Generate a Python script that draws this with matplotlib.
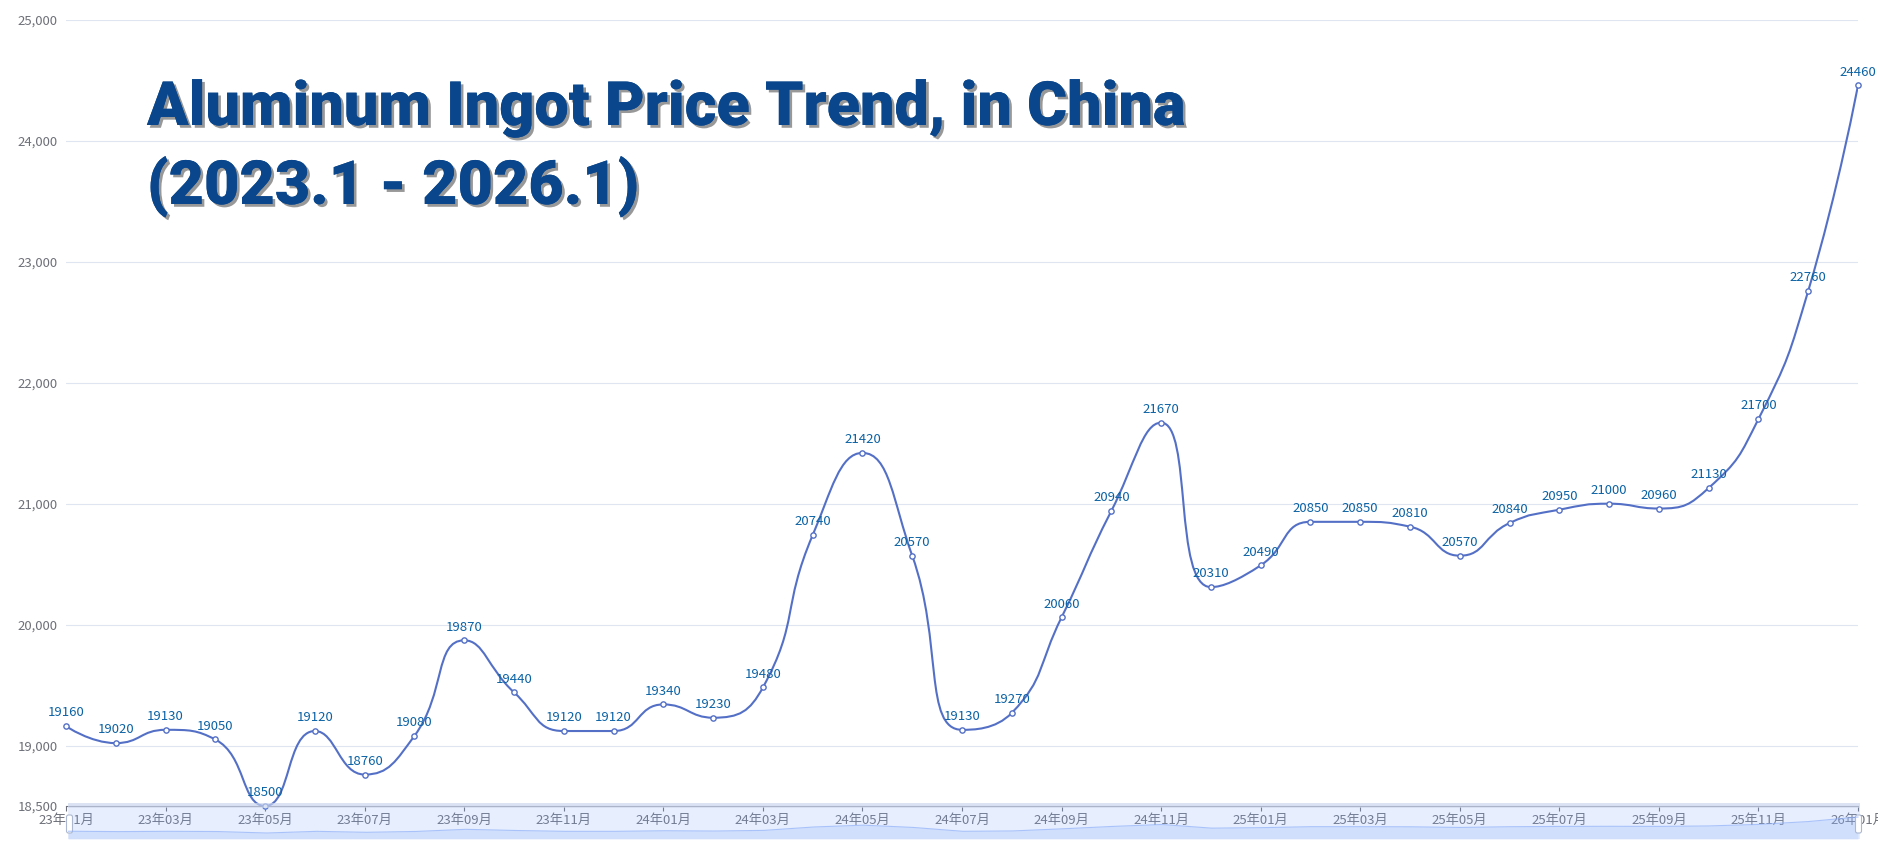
import math
import matplotlib
matplotlib.use("Agg")
import matplotlib.pyplot as plt
import matplotlib.patheffects as pe
from matplotlib.path import Path
from matplotlib.patches import PathPatch, Rectangle, FancyBboxPatch

plt.rcParams['font.family'] = ['Noto Sans CJK SC', 'DejaVu Sans']

months = ["23年01月", "23年02月", "23年03月", "23年04月", "23年05月", "23年06月",
          "23年07月", "23年08月", "23年09月", "23年10月", "23年11月", "23年12月",
          "24年01月", "24年02月", "24年03月", "24年04月", "24年05月", "24年06月",
          "24年07月", "24年08月", "24年09月", "24年10月", "24年11月", "24年12月",
          "25年01月", "25年02月", "25年03月", "25年04月", "25年05月", "25年06月",
          "25年07月", "25年08月", "25年09月", "25年10月", "25年11月", "25年12月",
          "26年01月"]
prices = [19160, 19020, 19130, 19050, 18500, 19120, 18760, 19080, 19870, 19440,
          19120, 19120, 19340, 19230, 19480, 20740, 21420, 20570, 19130, 19270,
          20060, 20940, 21670, 20310, 20490, 20850, 20850, 20810, 20570, 20840,
          20950, 21000, 20960, 21130, 21700, 22760, 24460]
y_ticks = [18500, 19000, 20000, 21000, 22000, 23000, 24000, 25000]
title_lines = ["Aluminum Ingot Price Trend, in China", "(2023.1 - 2026.1)"]

W, H = 1878, 847
fig = plt.figure(figsize=(W / 100, H / 100), dpi=100)
ax = fig.add_axes([66 / W, 1 - 806 / H, (1858 - 66) / W, (806 - 20) / H])
ax.set_xlim(0, len(months) - 1)
ax.set_ylim(18500, 25000)

# grid + axes styling, echarts-like
for v in y_ticks[1:]:
    ax.axhline(v, color='#e0e6f1', lw=0.8, zorder=0)
for s in ['top', 'left', 'right']:
    ax.spines[s].set_visible(False)
ax.spines['bottom'].set_color('#6e7079')
ax.spines['bottom'].set_linewidth(0.8)
ax.set_yticks(y_ticks)
ax.set_yticklabels([f"{v:,}" for v in y_ticks])
ax.tick_params(axis='y', length=0, pad=6, labelsize=9.5, labelcolor='#6e7079')
xt = list(range(0, len(months), 2))
ax.set_xticks(xt)
ax.set_xticklabels([months[i] for i in xt])
ax.tick_params(axis='x', length=3.6, width=0.8, color='#6e7079', pad=2,
               labelsize=9.5, labelcolor='#6e7079')

# smooth line the way echarts does it (smooth=0.5, clamped control points)
def smooth_path(px, py, smooth=0.5):
    verts = [(px[0], py[0])]
    codes = [Path.MOVETO]
    c0 = (px[0], py[0])
    n = len(px)
    for i in range(1, n):
        x, y = px[i], py[i]
        qx, qy = px[i - 1], py[i - 1]
        if i == n - 1:
            c1 = (x, y)
            nc0 = None
        else:
            nx, ny = px[i + 1], py[i + 1]
            vx, vy = nx - qx, ny - qy
            l0 = math.hypot(x - qx, y - qy)
            l1 = math.hypot(nx - x, ny - y)
            r = l1 / (l0 + l1)
            ncx = x + vx * smooth * r
            ncy = y + vy * smooth * r
            ncx = max(min(ncx, max(nx, x)), min(nx, x))
            ncy = max(min(ncy, max(ny, y)), min(ny, y))
            vx, vy = ncx - x, ncy - y
            cx = x - vx * l0 / l1
            cy = y - vy * l0 / l1
            cx = max(min(cx, max(qx, x)), min(qx, x))
            cy = max(min(cy, max(qy, y)), min(qy, y))
            vx, vy = x - cx, y - cy
            c1 = (cx, cy)
            nc0 = (x + vx * l1 / l0, y + vy * l1 / l0)
        verts += [c0, c1, (x, y)]
        codes += [Path.CURVE4] * 3
        c0 = nc0
    return verts, codes

xs = list(range(len(prices)))
pix = ax.transData.transform(list(zip(xs, prices)))
verts, codes = smooth_path(pix[:, 0], pix[:, 1])
verts = ax.transData.inverted().transform(verts)
ax.add_patch(PathPatch(Path(verts, codes), facecolor='none', edgecolor='#5470c6',
                       lw=1.5, zorder=3, capstyle='round'))
ax.plot(xs, prices, ls='none', marker='o', ms=3.8, mfc='white', mec='#5470c6',
        mew=1.0, zorder=4, clip_on=False)
for x, v in zip(xs, prices):
    ax.annotate(str(v), (x, v), xytext=(0, 7), textcoords='offset points',
                ha='center', va='baseline', fontsize=9.5, color='#0b62a4', zorder=5,
                annotation_clip=False)

# title
shadow = [pe.withSimplePatchShadow(offset=(2, -2), shadow_rgbFace='#444444', alpha=0.55), pe.Normal()]
for txt, yb in zip(title_lines, [125, 204]):
    fig.text(147 / W, 1 - yb / H, txt, fontsize=44, fontweight='heavy',
             family='Roboto', color='#0a468c', va='baseline', path_effects=shadow)

# datazoom slider
sl = fig.add_axes([68 / W, 1 - 839 / H, (1860 - 68) / W, 36 / H], zorder=5)
sl.set_xlim(0, 1792)
sl.set_ylim(0, 36)
sl.axis('off')
sl.patch.set_alpha(0)
sl.add_patch(Rectangle((0, 0), 1792, 36, facecolor='#87afff', alpha=0.2,
                       edgecolor='#d2dbee', lw=0.8))
sl.add_patch(Rectangle((0, 31), 1792, 5, facecolor='#d2dbee', alpha=0.6, lw=0))
lo, hi = min(prices), max(prices)
sx = [i * 1790 / (len(prices) - 1) for i in xs]
sy = [6 + (v - lo) / (hi - lo) * 16 for v in prices]
sl.fill_between(sx, 0, sy, color='#8fb0f7', alpha=0.25, lw=0)
sl.plot(sx, sy, color='#8fb0f7', lw=0.8, alpha=0.7)
for hx in [1.5, 1790.5]:
    sl.add_patch(FancyBboxPatch((hx - 3, 6), 6, 18, boxstyle='round,pad=0,rounding_size=2',
                                facecolor='white', edgecolor='#acb8d1', lw=0.8,
                                clip_on=False))

fig.savefig('out.png', dpi=100)
